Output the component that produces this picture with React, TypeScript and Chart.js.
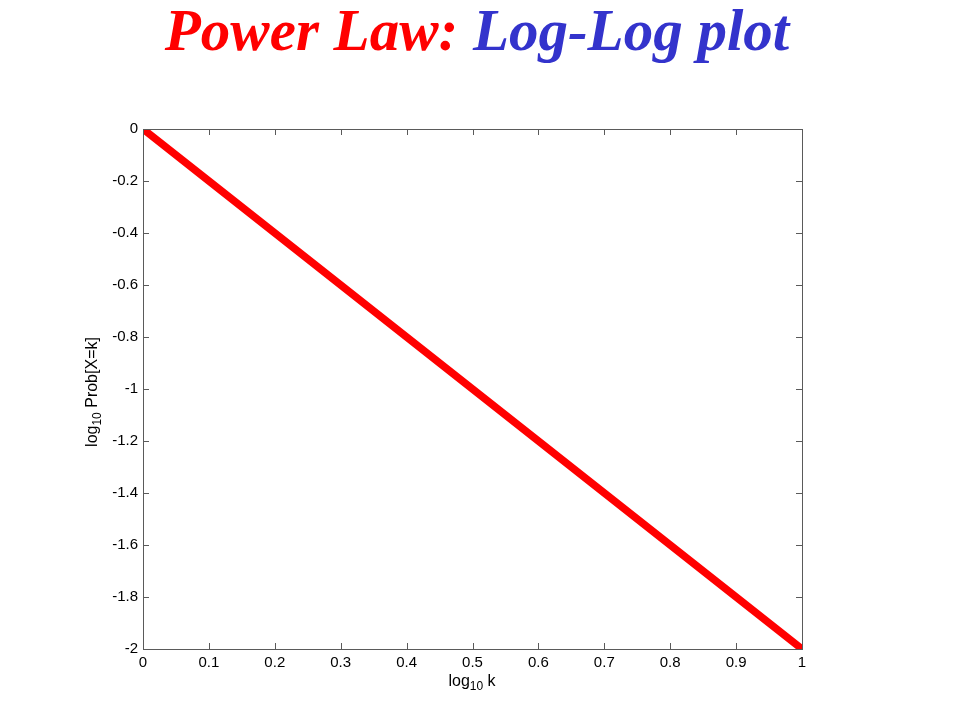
import React, { useEffect, useRef } from "react";
import { Chart, registerables } from "chart.js";

Chart.register(...registerables);

const logK: number[] = [0, 0.1, 0.2, 0.3, 0.4, 0.5, 0.6, 0.7, 0.8, 0.9, 1];
const logProb: number[] = [0, -0.2, -0.4, -0.6, -0.8, -1, -1.2, -1.4, -1.6, -1.8, -2];
const titleRed = "Power Law:";
const titleBlue = "Log-Log plot";
const xTitleParts = ["log", "10", " k"];
const yTitleParts = ["log", "10", " Prob[X=k]"];

const AXIS_COLOR = "#5a5a5a";

function drawSubText(ctx: CanvasRenderingContext2D, parts: string[], cx: number, cy: number) {
  const big = "16px 'Liberation Sans', Arial, sans-serif";
  const small = "12px 'Liberation Sans', Arial, sans-serif";
  ctx.font = big;
  const w0 = ctx.measureText(parts[0]).width;
  const w2 = ctx.measureText(parts[2]).width;
  ctx.font = small;
  const w1 = ctx.measureText(parts[1]).width;
  const total = w0 + w1 + w2;
  let x = cx - total / 2;
  ctx.textAlign = "left";
  ctx.textBaseline = "alphabetic";
  ctx.fillStyle = "#000";
  ctx.font = big;
  ctx.fillText(parts[0], x, cy);
  x += w0;
  ctx.font = small;
  ctx.fillText(parts[1], x, cy + 4);
  x += w1;
  ctx.font = big;
  ctx.fillText(parts[2], x, cy);
}

const decorPlugin = {
  id: "decor",
  afterDraw(chart: any) {
    const ctx: CanvasRenderingContext2D = chart.ctx;
    const { left, right, top, bottom } = chart.chartArea;
    const xs = chart.scales.x;
    const ys = chart.scales.y;
    ctx.save();
    ctx.strokeStyle = AXIS_COLOR;
    ctx.lineWidth = 1;
    ctx.strokeRect(Math.round(left) + 0.5, Math.round(top) + 0.5, Math.round(right - left), Math.round(bottom - top));
    const tl = 6;
    ctx.beginPath();
    xs.ticks.forEach((t: any) => {
      const px = Math.round(xs.getPixelForValue(t.value)) + 0.5;
      ctx.moveTo(px, bottom);
      ctx.lineTo(px, bottom - tl);
      ctx.moveTo(px, top);
      ctx.lineTo(px, top + tl);
    });
    ys.ticks.forEach((t: any) => {
      const py = Math.round(ys.getPixelForValue(t.value)) + 0.5;
      ctx.moveTo(left, py);
      ctx.lineTo(left + tl, py);
      ctx.moveTo(right, py);
      ctx.lineTo(right - tl, py);
    });
    ctx.stroke();

    drawSubText(ctx, xTitleParts, 472, bottom + 37);
    ctx.save();
    ctx.translate(97, 392);
    ctx.rotate(-Math.PI / 2);
    drawSubText(ctx, yTitleParts, 0, 0);
    ctx.restore();

    ctx.font = "bold italic 59px 'Liberation Serif', 'Times New Roman', serif";
    ctx.textBaseline = "alphabetic";
    ctx.textAlign = "left";
    const space = ctx.measureText(" ").width;
    const wr = ctx.measureText(titleRed).width;
    const wb = ctx.measureText(titleBlue).width;
    const total = wr + space + wb;
    const x0 = 477 - total / 2;
    ctx.fillStyle = "#ff0000";
    ctx.fillText(titleRed, x0, 50);
    ctx.fillStyle = "#3333cc";
    ctx.fillText(titleBlue, x0 + wr + space, 50);
    ctx.restore();
  },
};

export default function App() {
  const ref = useRef<HTMLCanvasElement | null>(null);
  useEffect(() => {
    if (!ref.current) return;
    const chart = new Chart(ref.current, {
      type: "line",
      data: {
        datasets: [
          {
            data: logK.map((x, i) => ({ x, y: logProb[i] })),
            borderColor: "#ff0000",
            borderWidth: 7.5,
            pointRadius: 0,
            fill: false,
            tension: 0,
            clip: 0,
          } as any,
        ],
      },
      options: {
        animation: false,
        responsive: false,
        maintainAspectRatio: false,
        layout: { padding: { left: 0, right: 158, top: 129, bottom: 0 } },
        plugins: { legend: { display: false }, tooltip: { enabled: false }, title: { display: false } },
        scales: {
          x: {
            type: "linear",
            min: 0,
            max: 1,
            grid: { display: false, drawTicks: false },
            border: { display: false },
            ticks: {
              stepSize: 0.1,
              padding: 5,
              color: "#000",
              maxRotation: 0,
              autoSkip: false,
              font: { family: "'Liberation Sans', Arial, sans-serif", size: 15 },
              callback: (v: any) => String(Number(Number(v).toFixed(1))),
            },
            afterFit: (s: any) => {
              s.height = 71;
            },
          },
          y: {
            type: "linear",
            min: -2,
            max: 0,
            grid: { display: false, drawTicks: false },
            border: { display: false },
            ticks: {
              stepSize: 0.2,
              padding: 5,
              color: "#000",
              autoSkip: false,
              font: { family: "'Liberation Sans', Arial, sans-serif", size: 15 },
              callback: (v: any) => String(Number(Number(v).toFixed(1))),
            },
            afterFit: (s: any) => {
              s.width = 143;
            },
          },
        },
      },
      plugins: [decorPlugin],
    });
    return () => chart.destroy();
  }, []);
  return (
    <div style={{ position: "absolute", left: 0, top: 0, width: 960, height: 720, background: "#fff" }}>
      <canvas ref={ref} width={960} height={720} style={{ display: "block" }} />
    </div>
  );
}
